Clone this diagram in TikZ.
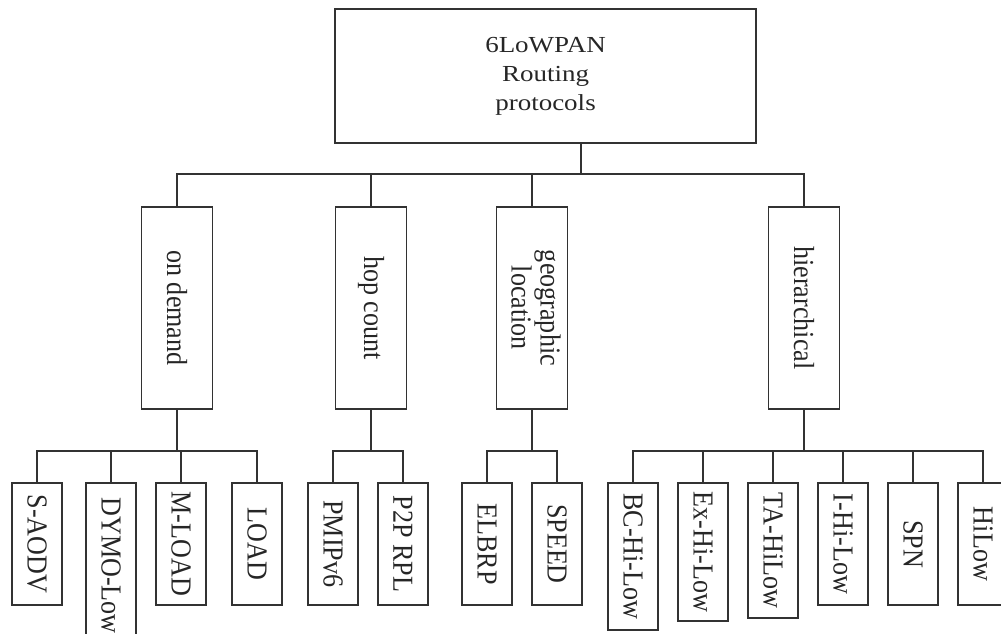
\documentclass[tikz,border=0pt]{standalone}
\usepackage{fontspec}
\setmainfont{Liberation Serif}
\usepackage{graphicx}
\usetikzlibrary{positioning}
\tikzstyle{chart} = [x = 1pt, y = -1pt]
\definecolor{lineColor}{RGB}{50,50,50}
\tikzstyle{boxStyle} = [draw=lineColor, line width=1.9pt, inner sep=0pt, align=center, text=black!85]
\tikzstyle{rootStyle} = [boxStyle, minimum width=421pt, minimum height=134pt, font=\fontsize{27}{34}\selectfont]
\tikzstyle{classStyle} = [boxStyle, rotate=-90, anchor=west, minimum width=202pt, minimum height=71pt, font=\fontsize{29}{29}\selectfont]
\tikzstyle{leafStyle} = [boxStyle, rotate=-90, anchor=west, minimum height=50pt, font=\fontsize{29}{29}\selectfont]
\tikzstyle{branch} = [draw=lineColor, line width=1.9pt]
\newcommand{\alongText}[1]{\scalebox{0.9}[1]{#1}}
\newcommand{\acrossText}[1]{\scalebox{1}[0.85]{#1}}
\newcommand{\classNode}[3]{\node [classStyle] (#1) at (#2, 206) {\alongText{#3}};}
\newcommand{\leafNode}[4]{\node [leafStyle, minimum width=#3pt] (#1) at (#2, 482) {\alongText{#4}};}

\begin{document}
\begin{tikzpicture}[chart]
      \useasboundingbox (0,0) rectangle (1001,634);

      \node [rootStyle] (root) at (545.5, 76) {\acrossText{\begin{tabular}{@{}c@{}}6LoWPAN\\Routing\\protocols\end{tabular}}};
      \coordinate (rootStem) at ([xshift=35.5pt]root.south);
      \coordinate (topBus) at (0, 174);
      \coordinate (lowBus) at (0, 451);

      \classNode{ondemand}{177}{on demand}
      \classNode{hopcount}{371}{hop count}
      \classNode{geo}{532}{\begin{tabular}{@{}c@{}}geographic\\location\end{tabular}}
      \classNode{hier}{804}{hierarchical}

      \leafNode{saodv}{37}{122}{S-AODV}
      \leafNode{dymo}{111}{165}{DYMO-Low}
      \leafNode{mload}{181}{122}{M-LOAD}
      \leafNode{load}{257}{122}{LOAD}
      \leafNode{pmip}{333}{122}{PMIPv6}
      \leafNode{ptp}{403}{122}{P2P RPL}
      \leafNode{elbrp}{487}{122}{ELBRP}
      \leafNode{speed}{557}{122}{SPEED}
      \leafNode{bchilow}{633}{147}{BC-Hi-Low}
      \leafNode{exhilow}{703}{138}{Ex-Hi-Low}
      \leafNode{tahilow}{773}{135}{TA-HiLow}
      \leafNode{ihilow}{843}{122}{I-Hi-Low}
      \leafNode{spn}{913}{122}{SPN}
      \leafNode{hilow}{983}{122}{HiLow}

      \foreach \c in {ondemand, hopcount, geo, hier}
        \draw [branch] (\c.west) |- (topBus -| rootStem) -- (rootStem);

      \foreach \c in {saodv, dymo, mload, load}
        \draw [branch] (\c.west) |- (lowBus -| ondemand.east) -- (ondemand.east);
      \foreach \c in {pmip, ptp}
        \draw [branch] (\c.west) |- (lowBus -| hopcount.east) -- (hopcount.east);
      \foreach \c in {elbrp, speed}
        \draw [branch] (\c.west) |- (lowBus -| geo.east) -- (geo.east);
      \foreach \c in {bchilow, exhilow, tahilow, ihilow, spn, hilow}
        \draw [branch] (\c.west) |- (lowBus -| hier.east) -- (hier.east);
    \end{tikzpicture}
\end{document}
